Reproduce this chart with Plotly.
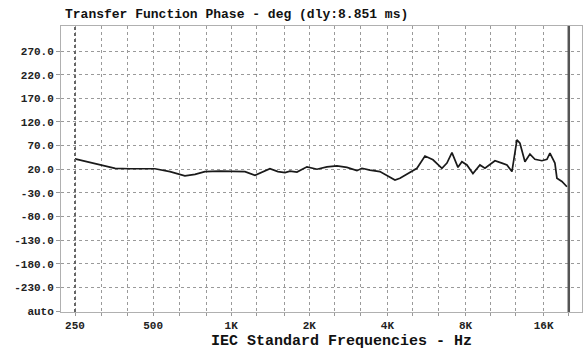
import plotly.graph_objects as go

# Data
freq_hz = [250, 286, 320, 357, 407, 508, 581, 663, 725, 792, 905, 1034, 1130, 1235,
           1313, 1410, 1514, 1612, 1685, 1792, 1959, 2141, 2339, 2556, 2793, 3052,
           3190, 3425, 3742, 4091, 4277, 4470, 4799, 5198, 5582, 5993, 6490, 6783,
           7092, 7283, 7480, 7748, 8100, 8545, 9092, 9505, 9935, 10388, 11053, 11555,
           12078, 12625, 12966, 13555, 14170, 14810, 15760, 16478, 16920, 17685,
           18002, 18820, 19675]
phase_deg = [42, 34, 27, 22, 21, 21, 15, 6, 9, 15, 16, 16, 15, 7,
             13, 21, 15, 13, 16, 14, 25, 20, 25, 27, 24, 17,
             22, 18, 15, 4, -3, 1, 11, 22, 48, 40, 22, 33,
             55, 40, 24, 36, 29, 11, 29, 22, 31, 38, 33, 29,
             15, 82, 75, 36, 52, 41, 38, 41, 54, 33,
             1, -6, -17]

grid_freqs = [250, 315, 400, 500, 630, 800, 1000, 1250, 1600, 2000, 2500, 3150,
              4000, 5000, 6300, 8000, 10000, 12500, 16000, 20000]
labelled = {250: "250", 500: "500", 1000: "1K", 2000: "2K", 4000: "4K",
            8000: "8K", 16000: "16K"}
x_ticktext = [labelled.get(f, "") for f in grid_freqs]

y_tickvals = [270, 220, 170, 120, 70, 20, -30, -80, -130, -180, -230, -280]
y_ticktext = ["270.0", "220.0", "170.0", "120.0", "70.0", "20.0", "-30.0",
              "-80.0", "-130.0", "-180.0", "-230.0", "auto"]

title_text = "Transfer Function Phase - deg (dly:8.851 ms)"
xtitle_text = "IEC Standard Frequencies - Hz"

mono = "Liberation Mono"

fig = go.Figure()
fig.add_trace(go.Scatter(x=freq_hz, y=phase_deg, mode="lines",
                         line=dict(color="#1a1a1a", width=1.7),
                         showlegend=False, hoverinfo="skip"))

fig.update_layout(
    width=587, height=351,
    margin=dict(l=61, r=5, t=26, b=39),
    paper_bgcolor="white", plot_bgcolor="white",
    font=dict(family=mono, color="#222222", size=11),
    xaxis=dict(type="log", range=[2.344, 4.352],
               tickmode="array", tickvals=grid_freqs, ticktext=x_ticktext,
               showgrid=True, gridcolor="#9a9a9a", griddash="dot", gridwidth=1,
               showline=True, linecolor="#b0b0b0", linewidth=1, mirror=True,
               ticks="outside", ticklen=3, tickcolor="#999999",
               tickfont=dict(family=mono, size=11, color="#222222", weight="bold"),
               zeroline=False),
    yaxis=dict(range=[-282, 323],
               tickmode="array", tickvals=y_tickvals, ticktext=y_ticktext,
               showgrid=True, gridcolor="#9a9a9a", griddash="dot", gridwidth=1,
               showline=True, linecolor="#b0b0b0", linewidth=1, mirror=True,
               ticks="outside", ticklen=4, tickcolor="#999999",
               tickfont=dict(family=mono, size=11, color="#222222", weight="bold"),
               zeroline=False),
)

# darker marker lines at band edges
fig.add_shape(type="line", xref="x", yref="paper", x0=250, x1=250, y0=0, y1=1,
              line=dict(color="#666666", width=2, dash="dot"))
fig.add_shape(type="line", xref="x", yref="paper", x0=20000, x1=20000, y0=0, y1=1,
              line=dict(color="#555555", width=2.5))

fig.add_annotation(text=title_text, xref="paper", yref="paper", x=0.004, y=1,
                   xanchor="left", yanchor="bottom", yshift=2, showarrow=False,
                   font=dict(family=mono, size=13, color="#111111", weight="bold"))
fig.add_annotation(text=xtitle_text, xref="paper", yref="paper", x=0.539, y=0,
                   xanchor="center", yanchor="top", yshift=-19, showarrow=False,
                   font=dict(family=mono, size=15, color="#111111", weight="bold"))

fig.write_html("out.html")
